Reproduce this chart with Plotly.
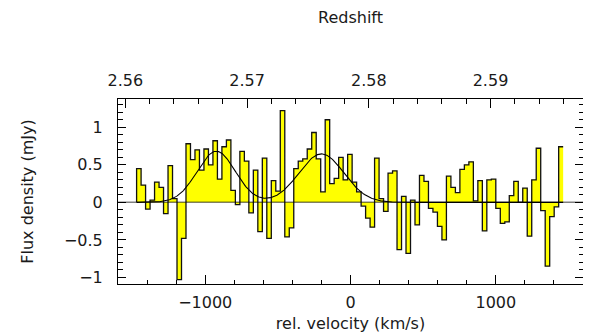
import numpy as np
import plotly.graph_objects as go

# ---------------- data ----------------
bin_start_kms = -1472.0     # left edge of first velocity bin (km/s)
bin_width_kms = 30.9        # channel width (km/s)
flux_mjy = [
    0.45, 0.23, -0.09, 0.03, 0.27, 0.20, -0.15, 0.49, 0.05, -1.03,
    -0.48, 0.78, 0.57, 0.70, 0.43, 0.71, 0.50, 0.82, 0.31, 0.74,
    0.83, 0.16, -0.03, 0.68, 0.55, -0.14, 0.43, -0.39, 0.59, -0.48,
    0.29, 0.15, 1.22, -0.46, -0.34, 0.45, 0.55, 0.58, 0.71, 0.93,
    0.58, 0.14, 1.10, 0.25, 0.32, 0.60, 0.30, 0.64, 0.27, 0.14,
    -0.05, -0.21, -0.33, 0.59, 0.05, -0.12, 0.39, 0.42, -0.63, 0.08,
    -0.68, 0.03, -0.30, 0.36, 0.28, -0.08, -0.13, -0.32, -0.50, 0.35,
    0.20, 0.13, 0.44, 0.50, 0.54, 0.02, 0.29, -0.38, 0.30, 0.31,
    -0.08, -0.28, -0.26, 0.09, 0.28, 0.00, 0.19, -0.45, 0.30, 0.72,
    -0.11, -0.85, -0.19, -0.06, 0.74,
]

# double-Gaussian fit parameters
fit_amp = [0.68, 0.645]        # mJy
fit_center = [-924.0, -200.0]  # km/s
fit_sigma = [132.0, 155.0]     # km/s

z_ref = 2.5785                 # redshift at v = 0
c_kms = 299792.458

vel_range = [-1600, 1600]
flux_range = [-1.087, 1.376]
redshift_ticks = [2.56, 2.57, 2.58, 2.59]
vel_ticks = [-1000, 0, 1000]

# ---------------- derived ----------------
n = len(flux_mjy)
edges = bin_start_kms + bin_width_kms * np.arange(n + 1)
step_x = [edges[0]] + list(edges[:-1]) + [edges[-1]]
step_y = [0.0] + list(flux_mjy) + [flux_mjy[-1]]

v_fit = np.linspace(edges[0], edges[-1], 600)
f_fit = np.zeros_like(v_fit)
for a, m, s in zip(fit_amp, fit_center, fit_sigma):
    f_fit += a * np.exp(-0.5 * ((v_fit - m) / s) ** 2)

z_range = [z_ref + v * (1 + z_ref) / c_kms for v in vel_range]

fig = go.Figure()
fig.add_trace(go.Scatter(
    x=step_x, y=step_y, mode="lines", line_shape="hv",
    line=dict(color="#111111", width=1.3),
    fill="tozeroy", fillcolor="#ffff00", hoverinfo="skip", showlegend=False))
fig.add_trace(go.Scatter(
    x=v_fit, y=f_fit, mode="lines",
    line=dict(color="black", width=1.1), hoverinfo="skip", showlegend=False))
fig.add_trace(go.Scatter(
    x=z_range, y=[None, None], xaxis="x2", mode="lines",
    hoverinfo="skip", showlegend=False))

fig.add_shape(type="line", xref="paper", x0=0, x1=1, yref="y", y0=0, y1=0,
              line=dict(color="rgba(0,0,0,0.5)", width=1.5), layer="above")

font = dict(family="DejaVu Sans", size=16, color="#1a1a1a")

# the page body has an 8 px default margin, so the figure is drawn
# 8 px smaller and everything sits 8 px right/down
fig.update_layout(
    width=583, height=327,
    margin=dict(l=110, r=8, t=91, b=51),
    paper_bgcolor="white", plot_bgcolor="white",
    font=font, showlegend=False,
    xaxis=dict(
        range=vel_range, tickvals=vel_ticks, ticks="inside", ticklen=9,
        tickwidth=1, tickcolor="black", showline=True, linecolor="black",
        linewidth=1, mirror=False, showgrid=False, zeroline=False,
        minor=dict(dtick=200, tick0=0, ticks="inside", ticklen=4.5,
                   tickcolor="black", tickwidth=1, showgrid=False),
        title=dict(text="rel. velocity (km/s)", standoff=6, font=font),
        automargin=False, ticklabelstandoff=4,
    ),
    xaxis2=dict(
        overlaying="x", side="top", anchor="y", range=z_range,
        tickvals=redshift_ticks, tickformat=".2f", ticks="inside", ticklen=9,
        tickwidth=1, tickcolor="black", showline=True, linecolor="black",
        linewidth=1, showgrid=False, zeroline=False,
        minor=dict(dtick=0.002, tick0=2.56, ticks="inside", ticklen=4.5,
                   tickcolor="black", tickwidth=1, showgrid=False),
        title=dict(text="Redshift", standoff=50, font=font),
        automargin=False, ticklabelstandoff=6,
    ),
    yaxis=dict(
        range=flux_range, dtick=0.5, tick0=0, ticks="inside", ticklen=8,
        tickwidth=1, tickcolor="black", showline=True, linecolor="black",
        linewidth=1, mirror="ticks", showgrid=False, zeroline=False,
        minor=dict(dtick=0.1, tick0=0, ticks="inside", ticklen=4.5,
                   tickcolor="black", tickwidth=1, showgrid=False),
        title=dict(text="Flux density (mJy)", standoff=26, font=font),
        automargin=False, ticklabelstandoff=11,
    ),
)

fig.write_html("out.html")
